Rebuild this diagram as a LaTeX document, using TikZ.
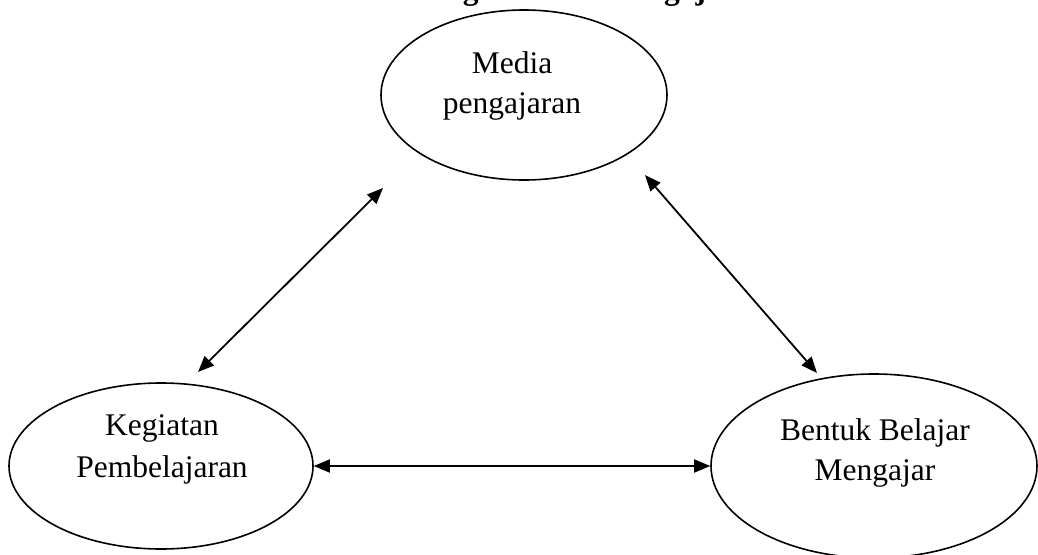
\documentclass[tikz,border=0pt]{standalone}
\usepackage{fontspec}
\setmainfont{Liberation Serif}
\usetikzlibrary{shapes.geometric,arrows.meta}
\begin{document}
\begin{tikzpicture}[x=1pt,y=-1pt,
  oval/.style={draw,ellipse,line width=1.6pt,inner sep=0pt},
  txt/.style={anchor=base,inner sep=0pt,font=\fontsize{31.5}{40}\selectfont},
  arr/.style={line width=1.8pt,{Triangle[length=16pt,width=13pt]}-{Triangle[length=16pt,width=13pt]}}]
\useasboundingbox (0,0) rectangle (1038,554);
\clip (0,0) rectangle (1038,554);
\node[anchor=base west,inner sep=0pt,font=\fontsize{31.5}{40}\selectfont\bfseries] (title) at (368,-1) {Hubungan Media Pengajaran};
\node[oval,minimum width=286pt,minimum height=170pt] (media) at (524,95) {};
\node[oval,minimum width=304pt,minimum height=166pt] (keg) at (161,466) {};
\node[oval,minimum width=326pt,minimum height=184pt] (bentuk) at (874,466) {};
\node[txt] (m1) at (512,73) {Media};
\node[txt] (m2) at (512,113) {pengajaran};
\node[txt] (k1) at (162,435) {Kegiatan};
\node[txt] (k2) at (162,477) {Pembelajaran};
\node[txt] (b1) at (875,440) {Bentuk Belajar};
\node[txt] (b2) at (875,480) {Mengajar};
\coordinate (la) at (198,372);
\coordinate (lb) at (383,188);
\coordinate (ra) at (645,175);
\coordinate (rb) at (817,373);
\draw[arr] (la) -- (lb);
\draw[arr] (ra) -- (rb);
\draw[arr] (keg.east) -- (bentuk.west);
\end{tikzpicture}
\end{document}
